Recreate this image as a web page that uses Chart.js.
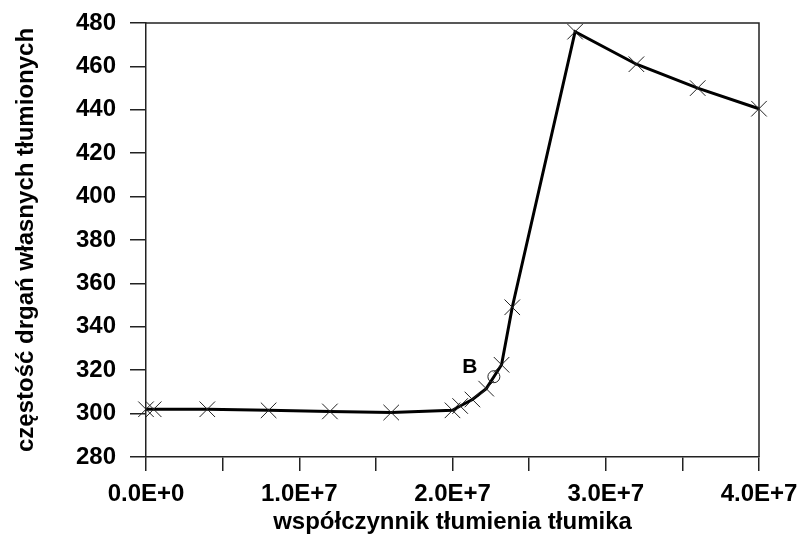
<!DOCTYPE html>
<html>
<head>
<meta charset="utf-8">
<script src="https://cdn.jsdelivr.net/npm/chart.js@4/dist/chart.umd.min.js"></script>
<style>
  html, body { margin: 0; padding: 0; background: #fff; }
  #wrap { width: 801px; height: 537px; }
</style>
</head>
<body>
<div id="wrap"><canvas id="chart"></canvas></div>
<script>
// damping coefficient (x) and damped natural frequency (y)
const damping = [0, 0.5e6, 4e6, 8e6, 12e6, 16e6, 20e6, 20.5e6, 21.3e6, 22.2e6, 22.7e6, 23.2e6, 23.9e6, 28e6, 32e6, 36e6, 40e6];
const frequency = [302, 302, 302, 301.5, 301, 300.5, 301.5, 303.5, 306.5, 311.5, 317, 322.5, 349, 476, 461, 450, 440.5];
const markerB = 10; // index of the point marked "B"
const yTicks = { min: 280, max: 480, step: 20 };
const xTicks = { min: 0, max: 40e6, step: 5e6, labelEvery: 10e6 };

const font = 'Liberation Sans, Arial, sans-serif';

const frame = {
  id: 'frame',
  afterDraw(chart) {
    const { ctx, chartArea: a } = chart;
    ctx.save();
    ctx.strokeStyle = '#222';
    ctx.lineWidth = 1.5;
    ctx.beginPath();
    ctx.moveTo(a.left, a.top);
    ctx.lineTo(a.right, a.top);
    ctx.lineTo(a.right, a.bottom);
    ctx.stroke();
    // label B next to its point
    const p = chart.getDatasetMeta(0).data[markerB];
    ctx.fillStyle = '#000';
    ctx.font = 'bold 21px ' + font;
    ctx.textAlign = 'center';
    ctx.textBaseline = 'middle';
    ctx.fillText('B', p.x - 24, p.y - 10);
    ctx.restore();
  }
};

new Chart(document.getElementById('chart'), {
  type: 'line',
  data: {
    datasets: [{
      data: damping.map((x, i) => ({ x: x, y: frequency[i] })),
      borderColor: '#000',
      borderWidth: 3,
      tension: 0,
      clip: false,
      pointStyle: damping.map((x, i) => i === markerB ? 'circle' : 'crossRot'),
      pointRadius: damping.map((x, i) => i === markerB ? 6 : 11),
      pointBorderColor: '#222',
      pointBackgroundColor: 'rgba(0,0,0,0)',
      pointBorderWidth: 1
    }]
  },
  options: {
    responsive: true,
    maintainAspectRatio: false,
    animation: false,
    layout: { padding: { top: 23, right: 42, left: 0, bottom: 0 } },
    plugins: { legend: { display: false }, tooltip: { enabled: false } },
    scales: {
      x: {
        type: 'linear',
        min: xTicks.min,
        max: xTicks.max,
        afterFit(s) { s.height = 80; s.paddingLeft = 0; s.paddingRight = 0; },
        border: { color: '#222', width: 1.5 },
        grid: { drawOnChartArea: false, color: '#222', lineWidth: 1.5, tickLength: 14 },
        ticks: {
          stepSize: xTicks.step,
          autoSkip: false,
          maxRotation: 0,
          color: '#000',
          padding: 9,
          font: { family: font, size: 24, weight: 'bold' },
          callback: v => v % xTicks.labelEvery === 0 ? v.toExponential(1).toUpperCase() : ''
        },
        title: {
          display: true,
          text: 'współczynnik tłumienia tłumika',
          color: '#000',
          padding: { top: 0, bottom: 0 },
          font: { family: font, size: 24, weight: 'bold' }
        }
      },
      y: {
        min: yTicks.min,
        max: yTicks.max,
        afterFit(s) { s.width = 146; s.paddingTop = 0; s.paddingBottom = 0; },
        border: { color: '#222', width: 1.5 },
        grid: { drawOnChartArea: false, color: '#222', lineWidth: 1.5, tickLength: 16 },
        ticks: {
          stepSize: yTicks.step,
          color: '#000',
          padding: 14,
          font: { family: font, size: 24, weight: 'bold' }
        },
        title: {
          display: true,
          text: 'częstość drgań własnych tłumionych',
          color: '#000',
          padding: { top: 12, bottom: 0 },
          font: { family: font, size: 24, weight: 'bold' }
        }
      }
    }
  },
  plugins: [frame]
});
</script>
</body>
</html>
